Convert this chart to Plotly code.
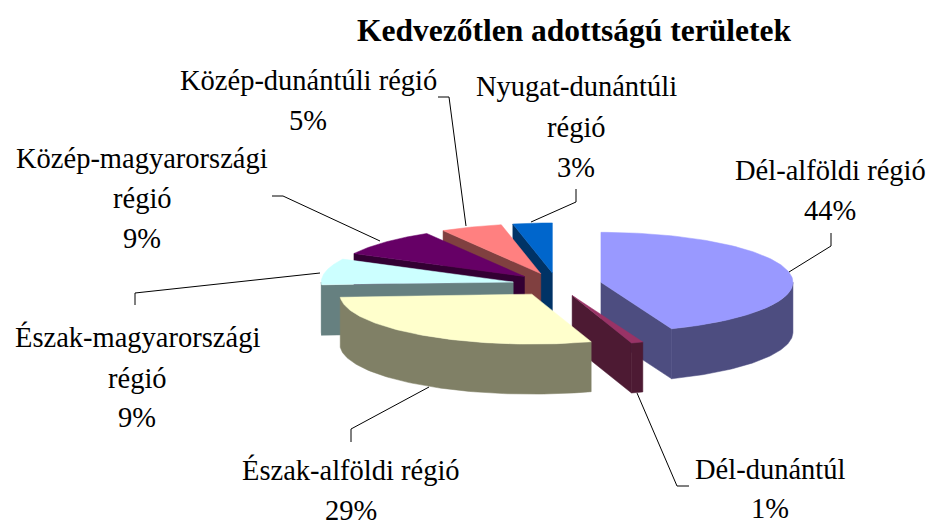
import numpy as np
import plotly.graph_objects as go

# ---- data -----------------------------------------------------------------
regions = ["Dél-alföldi régió", "Dél-dunántúl", "Észak-alföldi régió",
           "Észak-magyarországi régió", "Közép-magyarországi régió",
           "Közép-dunántúli régió", "Nyugat-dunántúli régió"]
shares = [44.0, 1.0, 29.0, 8.6, 8.9, 5.2, 3.3]
top_colors = ["#9999FF", "#993366", "#FFFFCC", "#CCFFFF", "#660066", "#FF8080", "#0066CC"]
side_colors = ["#4D4D80", "#4D1A33", "#808066", "#668080", "#330033", "#804040", "#003366"]
draw_order = [6, 5, 4, 3, 0, 1, 2]
title = "Kedvezőtlen adottságú területek"

# ---- 3D pie projection (pixels of the 929x525 page) ------------------------
CX, CY, RX, RY, DEPTH, EXPLODE = 557, 284.5, 192, 50, 50, 0.233
FONT = "Liberation Serif"
LABEL_SIZE = 28.5
TITLE_SIZE = 31.5


def ground(theta, apex=(0.0, 0.0), radius=1.0):
    t = np.radians(theta)
    return apex[0] + radius * RX * np.sin(t), apex[1] - radius * RY * np.cos(t)


def poly(fig, xs, ys, color, name):
    fig.add_trace(go.Scatter(x=list(xs), y=list(ys), mode="lines", fill="toself",
                             fillcolor=color, line=dict(color=color, width=0.5),
                             hoverinfo="skip", name=name, showlegend=False))


fig = go.Figure()
edges = np.concatenate([[0], np.cumsum(shares)]) * 360.0 / sum(shares)

for i in draw_order:
    a0, a1 = edges[i], edges[i + 1]
    mid = (a0 + a1) / 2
    apex = ground(mid, (CX, CY), EXPLODE)
    c_top, c_side = top_colors[i], side_colors[i]
    for a, visible in ((a0, np.sin(np.radians(a0)) < -1e-9), (a1, np.sin(np.radians(a1)) > 1e-9)):
        if visible:
            ex, ey = ground(a, apex)
            poly(fig, [apex[0], ex, ex, apex[0], apex[0]],
                 [apex[1], ey, ey + DEPTH, apex[1] + DEPTH, apex[1]], c_side, regions[i])
    w0, w1 = max(a0, 90), min(a1, 270)
    if w1 > w0:
        th = np.linspace(w0, w1, 80)
        wx, wy = ground(th, apex)
        poly(fig, np.r_[wx, wx[::-1], wx[0]], np.r_[wy, wy[::-1] + DEPTH, wy[0]], c_side, regions[i])
    th = np.linspace(a0, a1, 120)
    tx, ty = ground(th, apex)
    poly(fig, np.r_[apex[0], tx, apex[0]], np.r_[apex[1], ty, apex[1]], c_top, regions[i])

# ---- leader lines -----------------------------------------------------------
leaders = [
    ([831, 831, 789], [233, 246, 272]),
    ([689, 677, 637], [486, 486, 393]),
    ([351, 351, 429], [442, 429, 387]),
    ([135, 135, 320], [305, 293, 273]),
    ([272, 283, 380], [196, 196, 241]),
    ([438, 449, 466], [97, 97, 226]),
    ([576, 576, 531], [189, 202, 222]),
]
for lx, ly in leaders:
    fig.add_trace(go.Scatter(x=lx, y=ly, mode="lines", line=dict(color="black", width=1),
                             hoverinfo="skip", showlegend=False))

# ---- labels -----------------------------------------------------------------
label_lines = [
    (["Dél-alföldi régió"], 830, [170, 210]),
    (["Dél-dunántúl"], 770, [469, 508]),
    (["Észak-alföldi régió"], 351, [470, 510]),
    (["Észak-magyarországi", "régió"], 137, [337, 378, 417]),
    (["Közép-magyarországi", "régió"], 142, [158, 198, 238]),
    (["Közép-dunántúli régió"], 308, [80, 120]),
    (["Nyugat-dunántúli", "régió"], 576, [86, 127, 167]),
]
for (lines, x, ys), v in zip(label_lines, shares):
    for text, y in zip(lines + [f"{round(v)}%"], ys):
        fig.add_annotation(x=x, y=y, xref="x", yref="y", text=text, showarrow=False,
                           xanchor="center", yanchor="middle",
                           font=dict(family=FONT, size=LABEL_SIZE, color="black"))
fig.add_annotation(x=574, y=30, xref="x", yref="y", text=f"<b>{title}</b>", showarrow=False,
                   xanchor="center", yanchor="middle",
                   font=dict(family=FONT, size=TITLE_SIZE, color="black"))

fig.update_layout(
    width=929, height=525, autosize=False,
    margin=dict(l=0, r=0, t=0, b=0),
    paper_bgcolor="white", plot_bgcolor="white", showlegend=False,
    xaxis=dict(range=[0, 929], visible=False, fixedrange=True),
    yaxis=dict(range=[525, 0], visible=False, fixedrange=True),
)
fig.write_html("out.html", config={"displayModeBar": False},
               default_width="929px", default_height="525px",
               post_script="document.body.style.margin='0';"
                           "document.documentElement.style.overflow='hidden';")
